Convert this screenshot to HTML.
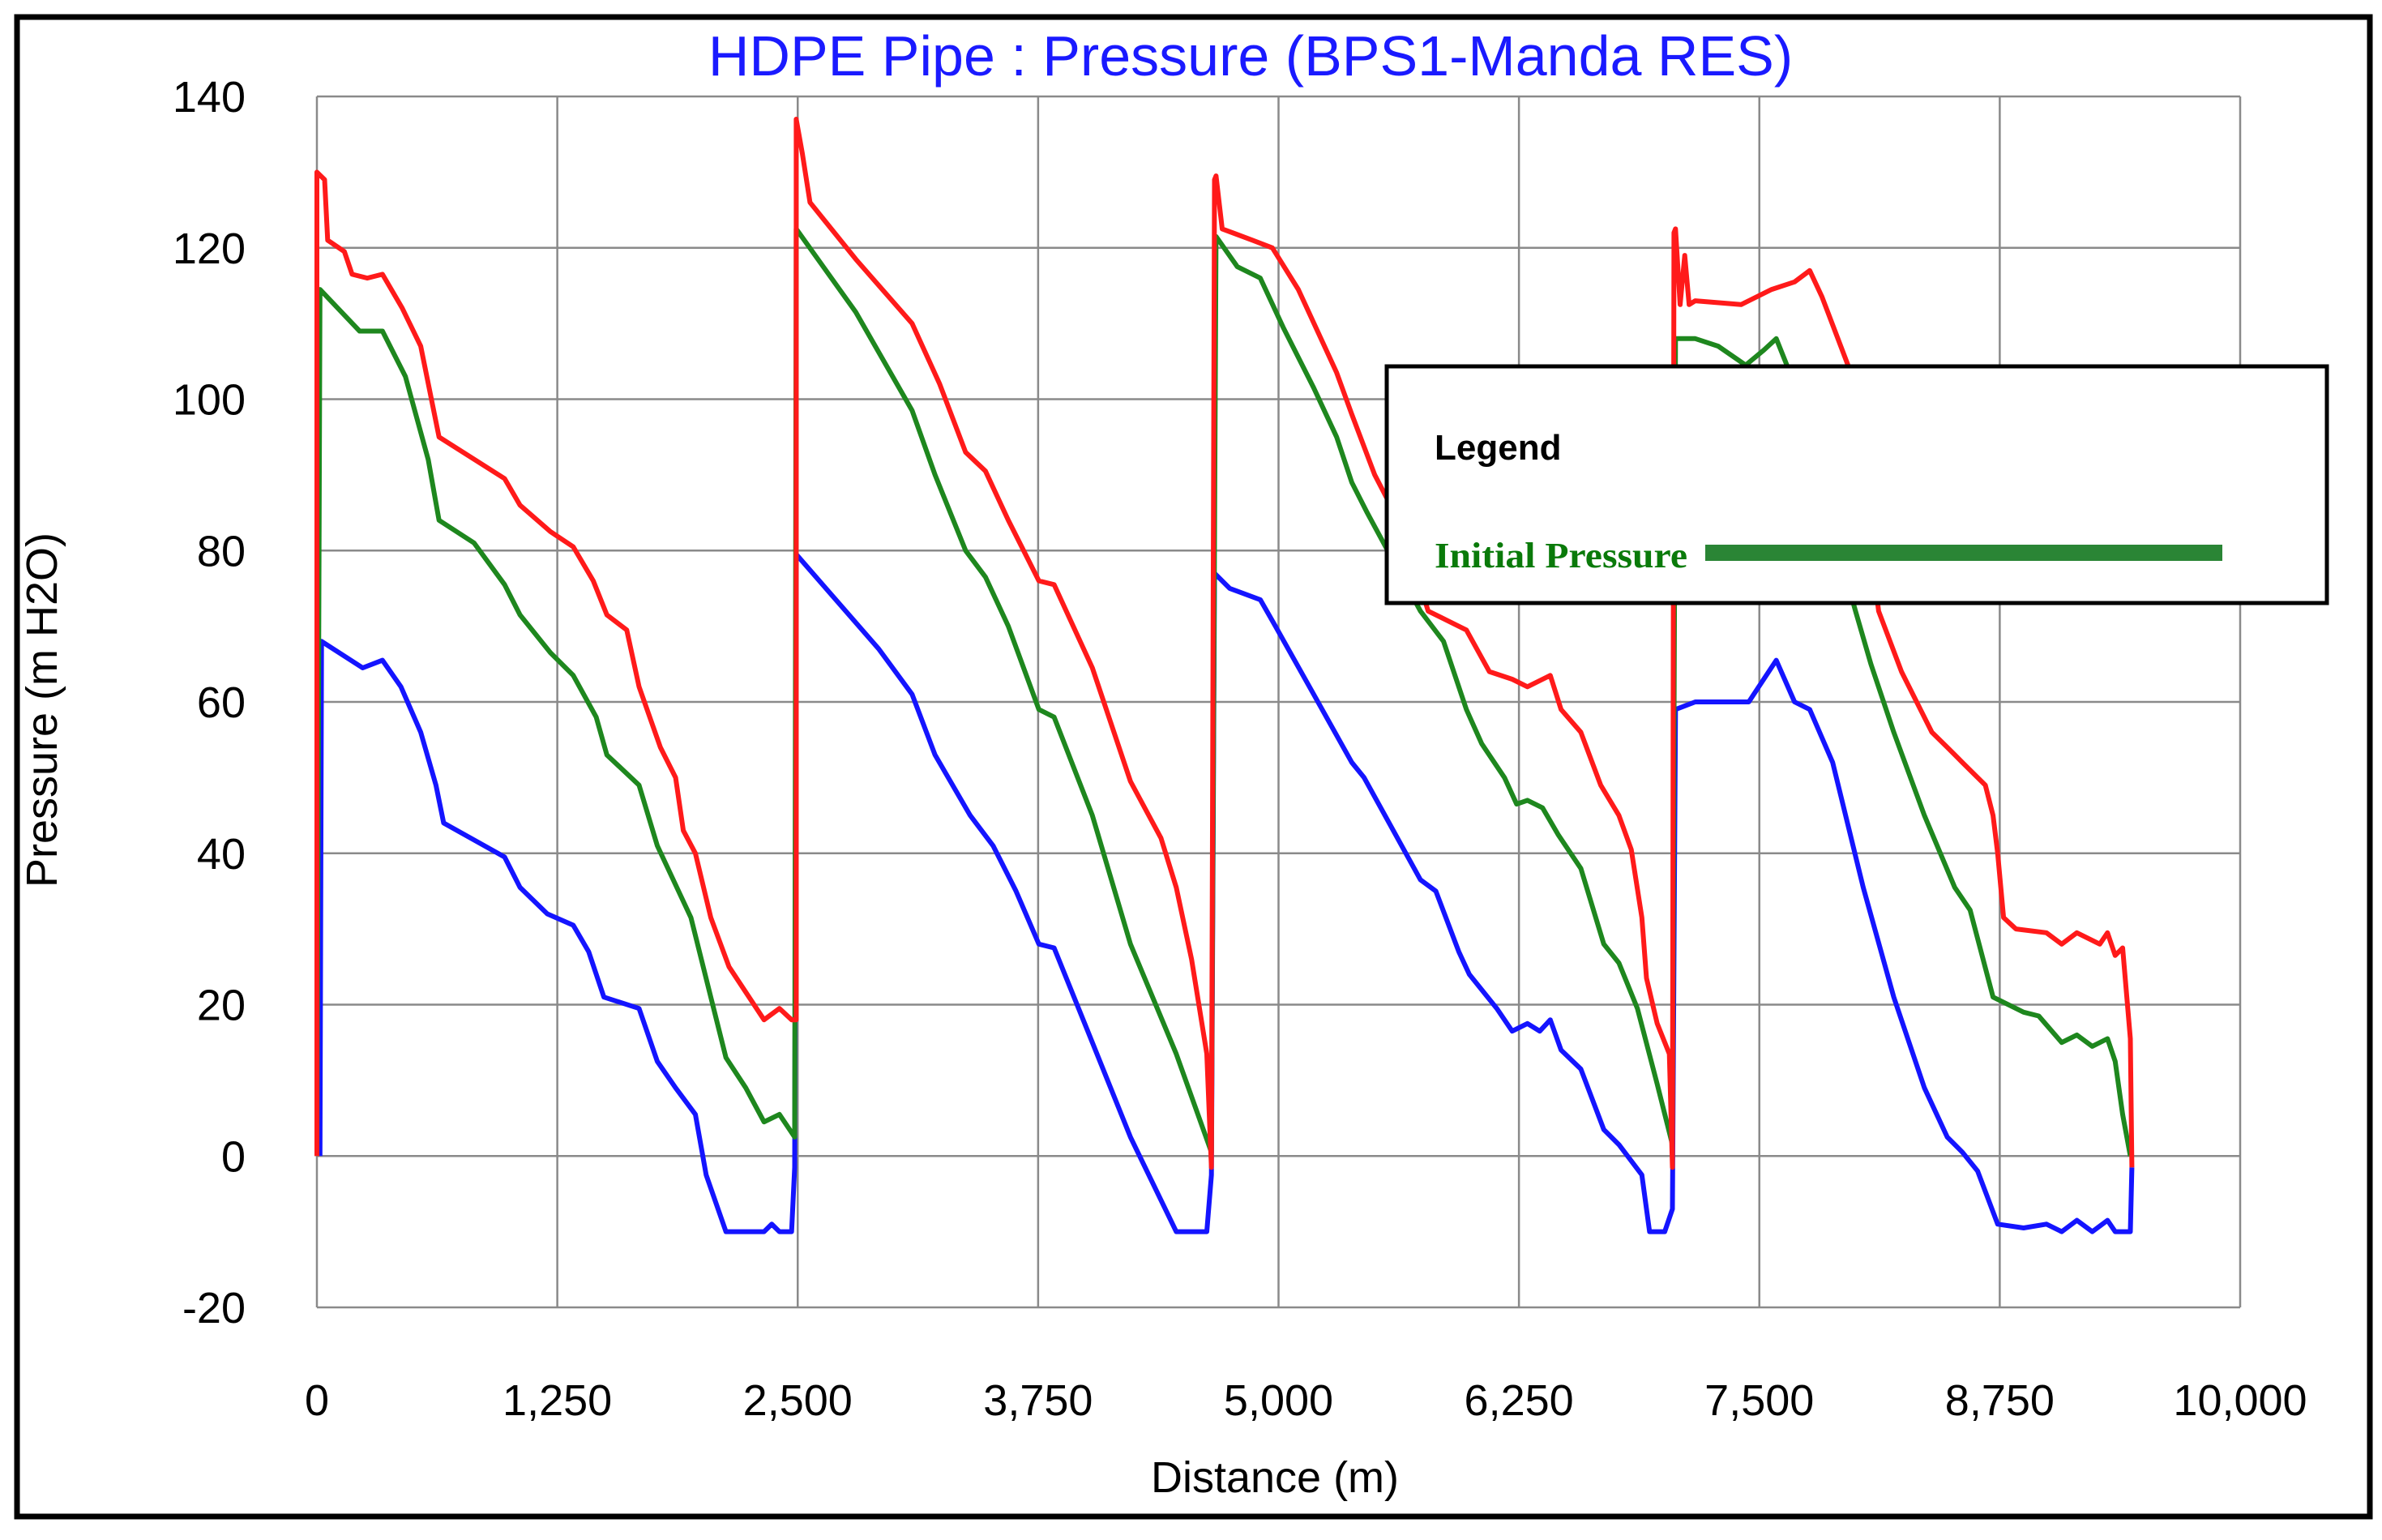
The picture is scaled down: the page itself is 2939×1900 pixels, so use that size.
<!DOCTYPE html>
<html><head><meta charset="utf-8">
<style>
html,body{margin:0;padding:0;background:#fff;}
svg{display:block;}
</style></head>
<body>
<svg id="chart" width="2939" height="1900" xmlns="http://www.w3.org/2000/svg">
<rect x="21" y="21" width="2903" height="1850" fill="#fff" stroke="#000" stroke-width="7"/>
<text x="1543" y="93" text-anchor="middle" font-family="Liberation Sans, sans-serif" font-size="70" fill="#1a1aff">HDPE Pipe : Pressure (BPS1-Manda RES)</text>
<g id="grid"></g>
<g id="series"></g>
<g id="ticks"></g>
<text x="1573" y="1841" text-anchor="middle" font-family="Liberation Sans, sans-serif" font-size="54" fill="#000">Distance (m)</text>
<text transform="translate(70,876) rotate(-90)" text-anchor="middle" font-family="Liberation Sans, sans-serif" font-size="54" fill="#000">Pressure (m H2O)</text>
<g>
<rect x="1711" y="452" width="1160" height="292" fill="#fff" stroke="#000" stroke-width="5"/>
<text x="1770" y="567" font-family="Liberation Sans, sans-serif" font-weight="bold" font-size="44" fill="#000">Legend</text>
<text x="1770" y="700" font-family="Liberation Serif, serif" font-weight="bold" font-size="44" fill="#0a7a0a" textLength="312" lengthAdjust="spacingAndGlyphs">Initial Pressure</text>
<rect x="2104" y="672" width="638" height="20" fill="#2a8535"/>
</g>
</svg>
<script>
const xTicks=[0,1250,2500,3750,5000,6250,7500,8750,10000];
const xTickLabels=["0","1,250","2,500","3,750","5,000","6,250","7,500","8,750","10,000"];
const yTicks=[140,120,100,80,60,40,20,0,-20];
const yTickLabels=["140","120","100","80","60","40","20","0","-20"];

const redX=[0,0,40,56,143,183,262,341,444,540,635,976,1056,1214,1333,1437,1508,1611,1675,1786,1865,1905,1968,2048,2143,2325,2405,2468,2492,2492,2524,2564,2802,3095,3238,3373,3476,3595,3754,3833,4032,4230,4389,4468,4548,4627,4651,4667,4675,4707,4865,4968,5103,5302,5381,5500,5643,5778,5977,6096,6215,6294,6413,6469,6572,6675,6770,6834,6889,6913,6969,7032,7048,7056,7064,7088,7112,7135,7167,7405,7564,7683,7762,7826,7961,8120,8239,8397,8477,8556,8675,8715,8739,8770,8834,8993,9072,9151,9270,9310,9350,9389,9429,9437];
const redY=[0,130,129,121,119.5,116.5,116,116.5,112,107,95,89.5,86,82.5,80.5,76,71.5,69.5,62,54,50,43,40,31.5,25,18,19.5,18,18,137,132.5,126,118.5,110,102,93,90.5,84,76,75.5,64.5,49.5,42,35.5,26,13.5,-1.5,129,129.5,122.5,121,120,114.5,103.5,98,90,83,72,69.5,64,63,62,63.5,59,56,49,45,40.5,31.5,23.5,17.5,13.5,-1.5,122,122.5,112.5,119,112.5,113,112.5,114.5,115.5,117,113.5,104.5,72,64,56,54,52,49,45,40,31.5,30,29.5,28,29.5,28,29.5,26.5,27.5,15.5,-1.5];

const greenX=[0,16,222,341,460,579,635,817,976,1056,1214,1333,1452,1508,1675,1770,1945,2048,2127,2230,2325,2405,2484,2492,2802,3095,3214,3373,3476,3595,3754,3833,4032,4230,4468,4651,4675,4786,4905,5024,5183,5302,5381,5461,5738,5858,5977,6056,6175,6238,6294,6373,6453,6572,6691,6770,6866,6969,7048,7064,7167,7286,7429,7524,7588,7643,8000,8080,8199,8358,8516,8596,8715,8874,8953,9072,9151,9231,9310,9350,9389,9429];
const greenY=[0,114.5,109,109,103,92,84,81,75.5,71.5,66.5,63.5,58,53,49,41,31.5,21,13,9,4.5,5.5,2.5,122.5,111.5,98.5,90,80,76.5,70,59,58,45,28,13.5,0.5,121.5,117.5,116,109.5,101.5,95,89,85,72,68,59,54.5,50,46.5,47,46,42.5,38,28,25.5,19.5,9.5,1.5,108,108,107,104.5,106.5,108,104.5,72,65,56,45,35.5,32.5,21,19,18.5,15,16,14.5,15.5,12.5,5.5,0];

const blueX=[16,24,238,341,437,540,619,659,976,1056,1198,1333,1413,1492,1675,1770,1865,1968,2024,2127,2325,2365,2405,2468,2484,2492,2921,3095,3214,3397,3516,3635,3754,3833,4032,4230,4468,4627,4651,4667,4746,4905,4984,5183,5381,5445,5738,5818,5937,5992,6135,6215,6294,6358,6413,6469,6572,6691,6770,6889,6929,7008,7048,7064,7167,7326,7445,7588,7683,7762,7881,8040,8199,8358,8477,8556,8635,8739,8874,8993,9072,9151,9231,9310,9350,9429,9437];
const blueY=[0,68,64.5,65.5,62,56,49,44,39.5,35.5,32,30.5,27,21,19.5,12.5,9,5.5,-2.5,-10,-10,-9,-10,-10,-1.5,79.5,67,61,53,45,41,35,28,27.5,15,2.5,-10,-10,-2.5,77,75,73.5,70,61,52,50,36.5,35,27,24,19.5,16.5,17.5,16.5,18,14,11.5,3.5,1.5,-2.5,-10,-10,-7,59,60,60,60,65.5,60,59,52,35.5,21,9,2.5,0.5,-2,-9,-9.5,-9,-10,-8.5,-10,-8.5,-10,-10,-1.5];

const NS='http://www.w3.org/2000/svg';
const PL=391,PR=2764,PT=119,PB=1613;
function sx(v){return PL+(v-0)/(10000-0)*(PR-PL);}
function sy(v){return PT+(140-v)/(140-(-20))*(PB-PT);}
const grid=document.getElementById('grid');
const ticks=document.getElementById('ticks');
xTicks.forEach((t,i)=>{
  const l=document.createElementNS(NS,'line');
  l.setAttribute('x1',sx(t));l.setAttribute('x2',sx(t));l.setAttribute('y1',PT);l.setAttribute('y2',PB);
  l.setAttribute('stroke','#8a8a8a');l.setAttribute('stroke-width','2.5');
  
  
  grid.appendChild(l);
  const tx=document.createElementNS(NS,'text');
  tx.setAttribute('x',sx(t));tx.setAttribute('y',1746);tx.setAttribute('text-anchor','middle');
  tx.setAttribute('font-family','Liberation Sans, sans-serif');tx.setAttribute('font-size','54');
  tx.textContent=xTickLabels[i];
  
  
  ticks.appendChild(tx);
});
yTicks.forEach((t,i)=>{
  const l=document.createElementNS(NS,'line');
  l.setAttribute('x1',PL);l.setAttribute('x2',PR);l.setAttribute('y1',sy(t));l.setAttribute('y2',sy(t));
  l.setAttribute('stroke','#8a8a8a');l.setAttribute('stroke-width','2.5');
  
  
  grid.appendChild(l);
  const tx=document.createElementNS(NS,'text');
  tx.setAttribute('x',303);tx.setAttribute('y',sy(t)+19);tx.setAttribute('text-anchor','end');
  tx.setAttribute('font-family','Liberation Sans, sans-serif');tx.setAttribute('font-size','54');
  tx.textContent=yTickLabels[i];
  
  
  ticks.appendChild(tx);
});
const series=document.getElementById('series');
function draw(xs,ys,color,name){
  const p=document.createElementNS(NS,'polyline');
  p.setAttribute('points',xs.map((x,i)=>sx(x).toFixed(1)+','+sy(ys[i]).toFixed(1)).join(' '));
  p.setAttribute('fill','none');p.setAttribute('stroke',color);p.setAttribute('stroke-width','6');
  p.setAttribute('stroke-linejoin','round');
  
  
  series.appendChild(p);
}
draw(blueX,blueY,'#1414ff','minimum-pressure-line');
draw(greenX,greenY,'#1e871e','initial-pressure-line');
draw(redX,redY,'#ff1a1a','maximum-pressure-line');
</script>
</body></html>
